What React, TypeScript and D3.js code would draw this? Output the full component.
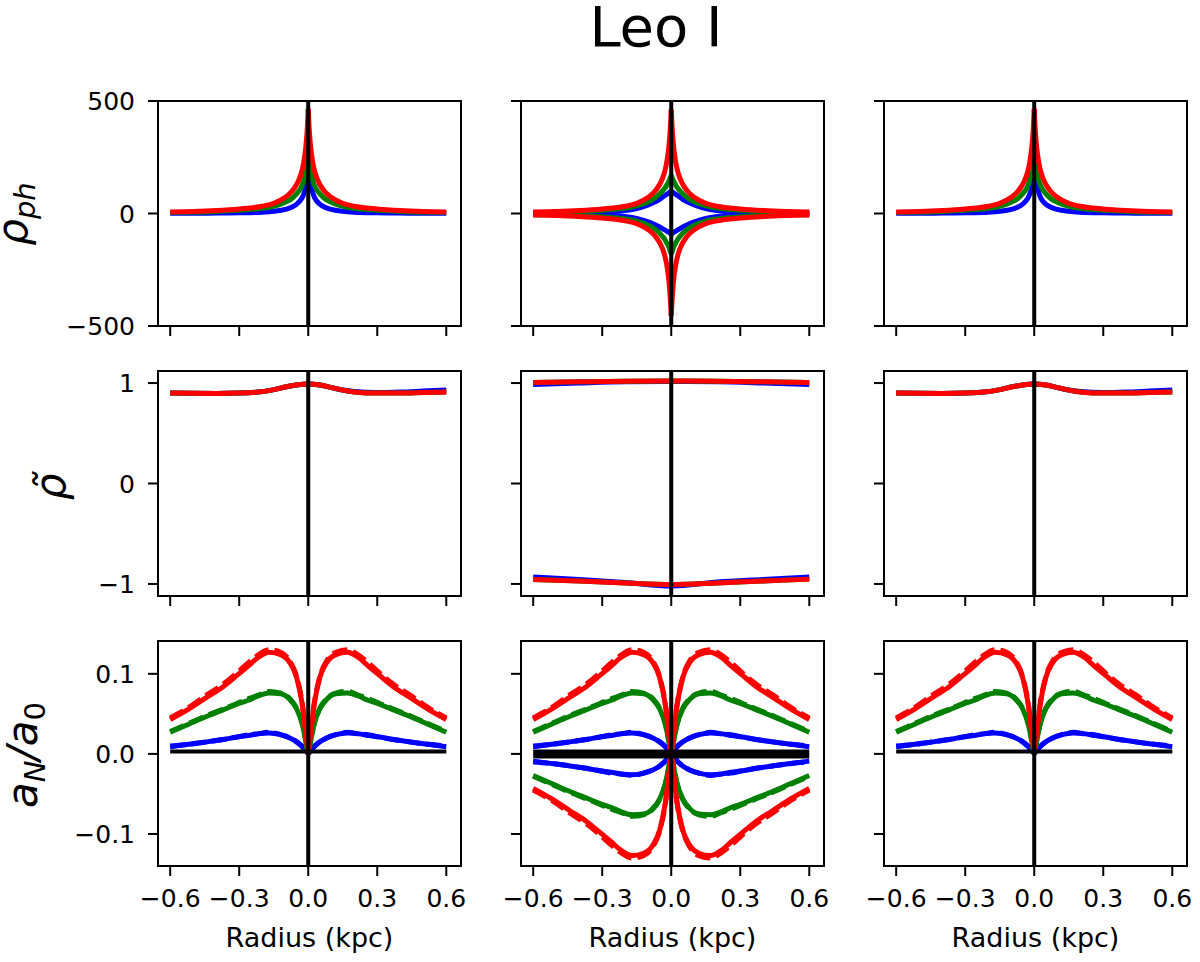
import React from 'react';
import * as d3 from 'd3';

// --- DATA ---
const TITLE = 'Leo I';
const X_TICKS = [-0.6, -0.3, 0, 0.3, 0.6];
const X_DOMAIN: [number, number] = [-0.653, 0.664];

// row 1: rho_ph (radii from centre outwards, mirrored to both sides)
const RHO_R = [0, 0.004, 0.01, 0.02, 0.03, 0.05, 0.07, 0.1, 0.15, 0.2, 0.3, 0.4, 0.5, 0.6];
const RHO_RED = [465, 380, 300, 225, 180, 130, 100, 72, 45, 32, 20, 13, 9, 7];
const RHO_GREEN = [300, 240, 190, 145, 118, 88, 68, 50, 32, 23, 14, 9, 6, 5];
const RHO_BLUE_RIGHT = [390, 240, 150, 92, 66, 42, 29, 18, 10, 6, 3, 2, 1, 1];
const RHO_BLUE_LEFT = [200, 160, 120, 85, 64, 42, 29, 18, 10, 6, 3, 2, 1, 1];
const RHO2_RED_POS = [462, 380, 300, 225, 180, 130, 100, 72, 45, 32, 20, 13, 9, 7];
const RHO2_RED_NEG = [-455, -380, -300, -225, -180, -130, -100, -72, -45, -32, -20, -13, -9, -7];
const RHO2_GREEN_POS = [170, 160, 145, 125, 110, 88, 70, 52, 34, 24, 14, 9, 6, 5];
const RHO2_GREEN_NEG = [-180, -170, -150, -130, -112, -88, -70, -52, -34, -24, -14, -9, -6, -5];
const RHO2_BLUE_POS = [100, 97, 92, 85, 78, 63, 52, 38, 22, 13, 5, 3, 2, 1];
const RHO2_BLUE_NEG = [-90, -88, -84, -78, -72, -60, -50, -37, -22, -13, -5, -3, -2, -1];
const RHO_TICKS = [-500, 0, 500];

// row 2: rho tilde
const RT_R = [-0.6, -0.5, -0.4, -0.3, -0.2, -0.15, -0.1, -0.05, 0, 0.05, 0.1, 0.15, 0.2, 0.3, 0.4, 0.5, 0.6];
const RT_RED = [0.9, 0.898, 0.897, 0.9, 0.915, 0.935, 0.96, 0.98, 0.99, 0.98, 0.955, 0.93, 0.912, 0.9, 0.9, 0.905, 0.91];
const RT_BLUE = [0.9, 0.898, 0.897, 0.9, 0.915, 0.935, 0.96, 0.98, 0.99, 0.98, 0.955, 0.93, 0.915, 0.905, 0.91, 0.92, 0.93];
const RT2_R = [-0.6, -0.4, -0.2, 0, 0.2, 0.4, 0.6];
const RT2_RED_TOP = [1.005, 1.012, 1.018, 1.02, 1.018, 1.012, 1.005];
const RT2_BLUE_TOP = [0.985, 1.0, 1.012, 1.015, 1.012, 1.0, 0.985];
const RT2_RED_BOT = [-0.955, -0.97, -0.99, -1.005, -0.99, -0.97, -0.952];
const RT2_BLUE_BOT = [-0.93, -0.955, -0.985, -1.02, -0.98, -0.955, -0.93];
const RT_TICKS = [-1, 0, 1];

// row 3: a_N / a_0 (radii from centre outwards)
const AN_R = [0, 0.005, 0.01, 0.025, 0.05, 0.08, 0.12, 0.17, 0.22, 0.26, 0.31, 0.37, 0.44, 0.52, 0.6];
const AN_RED = [0, 0.012, 0.025, 0.06, 0.095, 0.114, 0.124, 0.127, 0.12, 0.11, 0.098, 0.084, 0.071, 0.056, 0.043];
const AN_GREEN = [0, 0.007, 0.015, 0.036, 0.056, 0.068, 0.075, 0.076, 0.072, 0.067, 0.062, 0.055, 0.047, 0.037, 0.027];
const AN_BLUE = [0, 0.002, 0.004, 0.009, 0.015, 0.02, 0.024, 0.026, 0.025, 0.023, 0.021, 0.018, 0.015, 0.012, 0.009];
const AN_RED_DASH = [0, 0.013, 0.026, 0.061, 0.096, 0.116, 0.127, 0.13, 0.123, 0.114, 0.101, 0.087, 0.074, 0.058, 0.045];
const AN_GREEN_DASH = [0, 0.007, 0.015, 0.037, 0.057, 0.069, 0.076, 0.078, 0.073, 0.069, 0.063, 0.056, 0.048, 0.038, 0.028];
const AN_BLUE_DASH = [0, 0.002, 0.004, 0.009, 0.015, 0.02, 0.024, 0.027, 0.025, 0.024, 0.021, 0.018, 0.015, 0.012, 0.01];
const AN_BLACK = 0.003;
const AN_TICKS = [-0.1, 0, 0.1];

const BLUE = '#0000ff';
const GREEN = '#008000';
const RED = '#ff0000';

const COL_LEFT = [158, 521, 884];
const PANEL_W = 303;
const ROW_TOP = [101, 371, 641];
const PANEL_H = 225;
const FONT = '"DejaVu Sans", sans-serif';

type Curve = { xs: number[]; ys: number[]; color: string; dashed?: boolean; width?: number };

const fmtTick = (v: number, digits: number) => {
  const s = digits > 0 ? v.toFixed(digits) : String(v);
  return s.replace('-', '\u2212');
};

const right = (r: number[], v: number[], color: string, dashed = false): Curve => ({ xs: r, ys: v, color, dashed });
const left = (r: number[], v: number[], color: string, dashed = false): Curve => ({ xs: r.map(d => -d), ys: v, color, dashed });
const both = (r: number[], vL: number[], vR: number[], color: string, dashed = false): Curve[] => [
  left(r, vL, color, dashed),
  right(r, vR, color, dashed),
];

// curves per panel [row][col]
const rhoSide = (): Curve[] => [
  ...both(RHO_R, RHO_BLUE_LEFT, RHO_BLUE_RIGHT, BLUE),
  ...both(RHO_R, RHO_GREEN, RHO_GREEN, GREEN),
  ...both(RHO_R, RHO_RED, RHO_RED, RED),
];
const rhoMid = (): Curve[] => [
  ...both(RHO_R, RHO2_BLUE_POS, RHO2_BLUE_POS, BLUE),
  ...both(RHO_R, RHO2_BLUE_NEG, RHO2_BLUE_NEG, BLUE),
  ...both(RHO_R, RHO2_GREEN_POS, RHO2_GREEN_POS, GREEN),
  ...both(RHO_R, RHO2_GREEN_NEG, RHO2_GREEN_NEG, GREEN),
  ...both(RHO_R, RHO2_RED_POS, RHO2_RED_POS, RED),
  ...both(RHO_R, RHO2_RED_NEG, RHO2_RED_NEG, RED),
];
const rtSide = (): Curve[] => [
  { xs: RT_R, ys: RT_BLUE, color: BLUE },
  { xs: RT_R, ys: RT_RED, color: GREEN },
  { xs: RT_R, ys: RT_RED, color: RED },
];
const rtMid = (): Curve[] => [
  { xs: RT2_R, ys: RT2_BLUE_TOP, color: BLUE },
  { xs: RT2_R, ys: RT2_BLUE_BOT, color: BLUE },
  { xs: RT2_R, ys: RT2_RED_TOP, color: GREEN },
  { xs: RT2_R, ys: RT2_RED_BOT, color: GREEN },
  { xs: RT2_R, ys: RT2_RED_TOP, color: RED },
  { xs: RT2_R, ys: RT2_RED_BOT, color: RED },
];
const neg = (a: number[]) => a.map(v => -v);
const anSide = (): Curve[] => [
  ...both(AN_R, AN_BLUE, AN_BLUE, BLUE),
  ...both(AN_R, AN_BLUE_DASH, AN_BLUE_DASH, BLUE, true),
  ...both(AN_R, AN_GREEN, AN_GREEN, GREEN),
  ...both(AN_R, AN_GREEN_DASH, AN_GREEN_DASH, GREEN, true),
  ...both(AN_R, AN_RED, AN_RED, RED),
  ...both(AN_R, AN_RED_DASH, AN_RED_DASH, RED, true),
  { xs: [-0.6, 0.6], ys: [AN_BLACK, AN_BLACK], color: '#000', width: 4 },
];
const anMid = (): Curve[] => [
  ...both(AN_R, AN_BLUE, AN_BLUE, BLUE),
  ...both(AN_R, neg(AN_BLUE), neg(AN_BLUE), BLUE),
  ...both(AN_R, AN_BLUE_DASH, AN_BLUE_DASH, BLUE, true),
  ...both(AN_R, neg(AN_BLUE_DASH), neg(AN_BLUE_DASH), BLUE, true),
  ...both(AN_R, AN_GREEN, AN_GREEN, GREEN),
  ...both(AN_R, neg(AN_GREEN), neg(AN_GREEN), GREEN),
  ...both(AN_R, AN_GREEN_DASH, AN_GREEN_DASH, GREEN, true),
  ...both(AN_R, neg(AN_GREEN_DASH), neg(AN_GREEN_DASH), GREEN, true),
  ...both(AN_R, AN_RED, AN_RED, RED),
  ...both(AN_R, neg(AN_RED), neg(AN_RED), RED),
  ...both(AN_R, AN_RED_DASH, AN_RED_DASH, RED, true),
  ...both(AN_R, neg(AN_RED_DASH), neg(AN_RED_DASH), RED, true),
  { xs: [-0.6, 0.6], ys: [0, 0], color: '#000', width: 9 },
];

const ROWS = [
  { domain: [-500, 500] as [number, number], ticks: RHO_TICKS, digits: 0, panels: [rhoSide(), rhoMid(), rhoSide()] },
  { domain: [-1.12, 1.12] as [number, number], ticks: RT_TICKS, digits: 0, panels: [rtSide(), rtMid(), rtSide()] },
  { domain: [-0.14, 0.141] as [number, number], ticks: AN_TICKS, digits: 1, panels: [anSide(), anMid(), anSide()] },
];

const Panel: React.FC<{ row: number; col: number }> = ({ row, col }) => {
  const cfg = ROWS[row];
  const x0 = COL_LEFT[col];
  const y0 = ROW_TOP[row];
  const x = d3.scaleLinear().domain(X_DOMAIN).range([x0, x0 + PANEL_W]);
  const y = d3.scaleLinear().domain(cfg.domain).range([y0 + PANEL_H, y0]);
  const clipId = `clip-${row}-${col}`;

  return (
    <g>
      <clipPath id={clipId}>
        <rect x={x0} y={y0} width={PANEL_W} height={PANEL_H} />
      </clipPath>
      <g clipPath={`url(#${clipId})`}>
        {cfg.panels[col].map((c, i) => {
          const pts = c.xs.map((xv, k) => [xv, c.ys[k]] as [number, number]);
          const line = d3
            .line<[number, number]>()
            .x(d => x(d[0]))
            .y(d => y(d[1]))
            .curve(c.xs.length > 2 ? d3.curveMonotoneX : d3.curveLinear);
          // monotoneX needs increasing x
          const sorted = [...pts].sort((a, b) => a[0] - b[0]);
          return (
            <path
              key={i}
              d={line(sorted) || ''}
              fill="none"
              stroke={c.color}
              strokeWidth={c.width ?? 5}
              strokeDasharray={c.dashed ? '15,6' : undefined}
              strokeLinecap="butt"
              strokeLinejoin="round"
            />
          );
        })}
        <line x1={x(0)} x2={x(0)} y1={y0} y2={y0 + PANEL_H} stroke="#000" strokeWidth={4} />
      </g>
      <rect x={x0} y={y0} width={PANEL_W} height={PANEL_H} fill="none" stroke="#000" strokeWidth={2} />
      {X_TICKS.map(t => (
        <g key={`xt${t}`}>
          <line x1={x(t)} x2={x(t)} y1={y0 + PANEL_H} y2={y0 + PANEL_H + 10} stroke="#000" strokeWidth={2} />
          {row === 2 && (
            <text x={x(t)} y={y0 + PANEL_H + 41} fontSize={25} textAnchor="middle" fontFamily={FONT}>
              {fmtTick(t, 1)}
            </text>
          )}
        </g>
      ))}
      {cfg.ticks.map(t => (
        <g key={`yt${t}`}>
          <line x1={x0 - 10} x2={x0} y1={y(t)} y2={y(t)} stroke="#000" strokeWidth={2} />
          {col === 0 && (
            <text x={x0 - 23} y={y(t) + 9} fontSize={25} textAnchor="end" fontFamily={FONT}>
              {fmtTick(t, cfg.digits)}
            </text>
          )}
        </g>
      ))}
      {row === 2 && (
        <text x={x0 + PANEL_W / 2} y={947} fontSize={27} textAnchor="middle" fontFamily={FONT}>
          Radius (kpc)
        </text>
      )}
    </g>
  );
};

const App: React.FC = () => {
  return (
    <svg
      width={1200}
      height={962}
      style={{ position: 'absolute', left: 0, top: 0, background: '#fff' }}
      fontFamily={FONT}
    >
      <rect width={1200} height={962} fill="#fff" />
      <text x={656} y={46} fontSize={56} textAnchor="middle">
        {TITLE}
      </text>

      {/* y labels */}
      <text transform="translate(27,214) rotate(-90)" fontSize={42} textAnchor="middle" fontStyle="italic">
        ρ<tspan fontSize={29} dy={8}>ph</tspan>
      </text>
      <text transform="translate(65,487) rotate(-90)" fontSize={42} textAnchor="middle" fontStyle="italic">
        ρ̃
      </text>
      <text transform="translate(37,755) rotate(-90)" fontSize={42} textAnchor="middle" fontStyle="italic">
        a<tspan fontSize={29} dy={8}>N</tspan>
        <tspan dy={-8}>/a</tspan>
        <tspan fontSize={29} dy={8} fontStyle="normal">0</tspan>
      </text>

      {[0, 1, 2].map(r => [0, 1, 2].map(c => <Panel key={`${r}-${c}`} row={r} col={c} />))}
    </svg>
  );
};

export default App;
